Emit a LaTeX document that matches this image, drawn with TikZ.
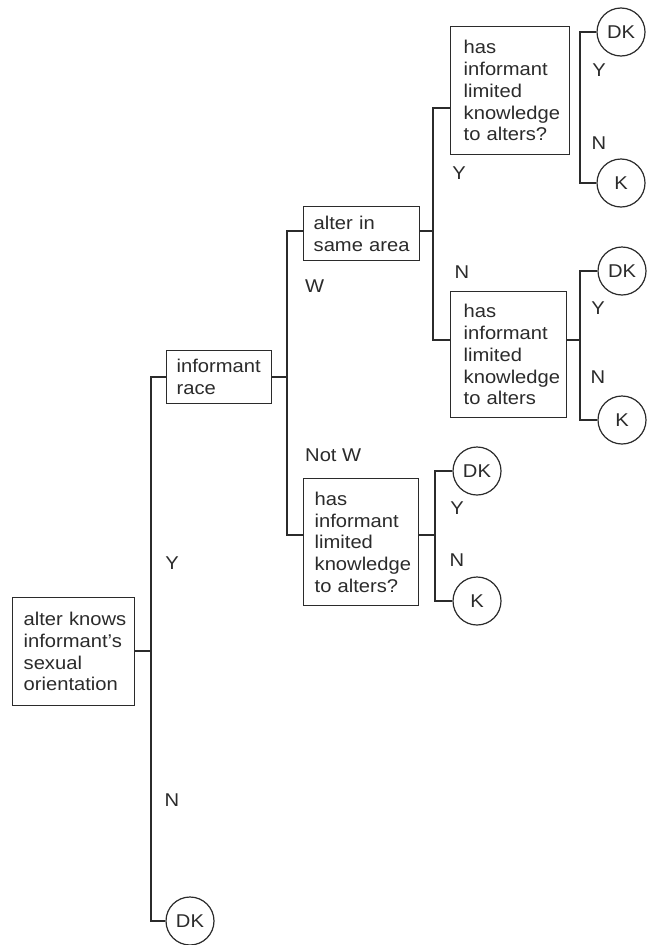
\documentclass[tikz,border=0pt]{standalone}
\usepackage{fontspec}
\setmainfont{Liberation Sans}[FakeStretch=1.09]
\definecolor{ink}{HTML}{2B2B2B}
\begin{document}
\begin{tikzpicture}[x=1pt,y=-1pt,
  every node/.style={text=ink},
  base/.style={font=\fontsize{18.5}{21.7}\selectfont},
  qbox/.style={base,draw=ink,line width=1.4pt,anchor=north west,align=left,inner ysep=0pt,inner xsep=11pt},
  leaf/.style={base,draw=ink,line width=1.2pt,circle,minimum size=48pt,inner sep=0pt},
  lbl/.style={base,inner sep=0pt},
  link/.style={draw=ink,line width=1.4pt}]
\fill[white] (0,0) rectangle (662,945);
\useasboundingbox (0,0) rectangle (662,945);

% boxes
\node[qbox,minimum width=122pt,minimum height=108pt,text width=100pt] (root) at (12,597)
  {alter~knows\\informant’s\\sexual\\orientation};
\node[qbox,minimum width=105pt,minimum height=53pt,text width=85pt,inner xsep=10pt] (race) at (166,350)
  {informant\\race};
\node[qbox,minimum width=116pt,minimum height=54pt,text width=96pt,inner xsep=10pt] (alter) at (303,206)
  {alter~in\\same~area};
\node[qbox,minimum width=119pt,minimum height=128pt,text width=93pt,inner xsep=13pt] (has1) at (450,26)
  {has\\informant\\limited\\knowledge\\to~alters?};
\node[qbox,minimum width=116pt,minimum height=126pt,text width=90pt,inner xsep=13pt] (has2) at (450,291)
  {has\\informant\\limited\\knowledge\\to~alters};
\node[qbox,minimum width=115pt,minimum height=127pt,text width=93pt] (has3) at (303,478)
  {has\\informant\\limited\\knowledge\\to~alters?};

% leaves
\node[leaf] (dk1) at (621,32) {DK};
\node[leaf] (k1) at (621,183) {K};
\node[leaf] (dk2) at (622,271) {DK};
\node[leaf] (k2) at (622,420) {K};
\node[leaf] (dk3) at (477,471) {DK};
\node[leaf] (k3) at (477,601) {K};
\node[leaf] (dk0) at (190,921) {DK};

% junctions
\coordinate (j1) at (151,651);
\coordinate (j2) at (287,377);
\coordinate (j3) at (433,231);
\coordinate (f1) at (580,108);
\coordinate (f2) at (580,340);
\coordinate (f3) at (435,535);

% connectors
\draw[link] (root.east |- j1) -- (j1);
\draw[link] (race.west |- 0,377) -| (j1) |- (dk0.west);
\draw[link] (race.east |- j2) -- (j2);
\draw[link] (alter.west |- 0,231) -| (j2) |- (has3.west |- 0,535);
\draw[link] (alter.east |- j3) -- (j3);
\draw[link] (has1.west |- 0,108) -| (j3) |- (has2.west |- 0,340);
\draw[link] (dk1.west) -| (f1) |- (k1.west);
\draw[link] (has2.east |- f2) -- (f2);
\draw[link] (dk2.west) -| (f2) |- (k2.west);
\draw[link] (has3.east |- f3) -- (f3);
\draw[link] (dk3.west) -| (f3) |- (k3.west);

% labels
\node[lbl] (ly0) at (172,563) {Y};
\node[lbl] (ln0) at (172,800) {N};
\node[lbl,anchor=west] (lw) at (305,286) {W};
\node[lbl,anchor=west] (lnw) at (305,455) {Not W};
\node[lbl] (ly1) at (459,173) {Y};
\node[lbl] (ln1) at (462,272) {N};
\node[lbl] (ly2) at (599,70) {Y};
\node[lbl] (ln2) at (599,143) {N};
\node[lbl] (ly3) at (598,308) {Y};
\node[lbl] (ln3) at (598,377) {N};
\node[lbl] (ly4) at (457,508) {Y};
\node[lbl] (ln4) at (457,560) {N};
\end{tikzpicture}
\end{document}
